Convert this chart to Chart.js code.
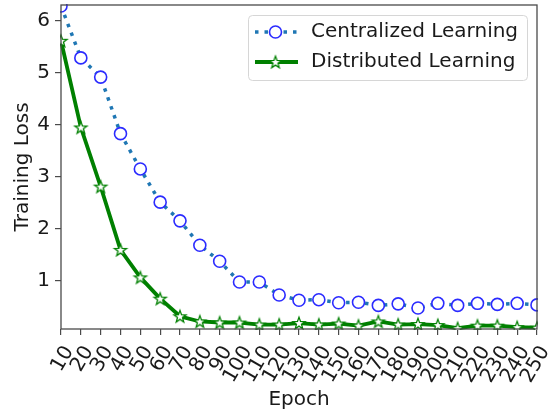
<!DOCTYPE html>
<html><head><meta charset="utf-8">
<script src="https://cdn.jsdelivr.net/npm/chart.js@4/dist/chart.umd.min.js"></script>
<style>html,body{margin:0;padding:0;background:#fff}</style>
</head><body>
<canvas id="c" width="548" height="413"></canvas>
<script>
const epochs = [10,20,30,40,50,60,70,80,90,100,110,120,130,140,150,160,170,180,190,200,210,220,230,240,250];
const centralized = [6.29,5.29,4.92,3.83,3.15,2.51,2.15,1.68,1.37,0.97,0.97,0.72,0.62,0.63,0.57,0.58,0.52,0.55,0.47,0.56,0.52,0.56,0.54,0.56,0.53];
const distributed = [5.62,3.95,2.81,1.59,1.06,0.65,0.31,0.21,0.19,0.19,0.15,0.15,0.18,0.15,0.17,0.13,0.21,0.15,0.16,0.14,0.08,0.13,0.13,0.10,0.09];
const yTicks = [1,2,3,4,5,6];
const seriesNames = ['Centralized Learning','Distributed Learning'];
const xTitle = 'Epoch';
const yTitle = 'Training Loss';

const FONT = 'DejaVu Sans';
const GREEN = '#008000';
const DOTBLUE = '#1f77b4';
const MARKBLUE = '#2b2bff';

function makeStar(){
  const s = 18, c = document.createElement('canvas');
  c.width = s; c.height = s;
  const g = c.getContext('2d');
  g.beginPath();
  for (let i = 0; i < 10; i++) {
    const r = i % 2 ? 2.6 : 6.4;
    const a = -Math.PI/2 + i*Math.PI/5;
    g.lineTo(s/2 + r*Math.cos(a), s/2 + 0.5 + r*Math.sin(a));
  }
  g.closePath();
  g.fillStyle = '#fff'; g.fill();
  g.strokeStyle = GREEN; g.lineWidth = 1.3; g.lineJoin = 'miter'; g.stroke();
  return c;
}
const starImg = makeStar();

const framePlugin = {
  id: 'frame',
  afterDatasetsDraw(chart){
    const {ctx, chartArea:a} = chart;
    ctx.save();
    ctx.strokeStyle = '#4a4a4a'; ctx.lineWidth = 1.3;
    ctx.strokeRect(a.left, a.top, a.right - a.left, a.bottom - a.top);
    ctx.restore();
  }
};

const legendPlugin = {
  id: 'mplLegend',
  afterDraw(chart){
    const ctx = chart.ctx;
    ctx.save();
    const x0 = 248.5, y0 = 15.5, w = 279, h = 65, r = 4;
    ctx.beginPath();
    ctx.moveTo(x0+r, y0); ctx.lineTo(x0+w-r, y0); ctx.arcTo(x0+w, y0, x0+w, y0+r, r);
    ctx.lineTo(x0+w, y0+h-r); ctx.arcTo(x0+w, y0+h, x0+w-r, y0+h, r);
    ctx.lineTo(x0+r, y0+h); ctx.arcTo(x0, y0+h, x0, y0+h-r, r);
    ctx.lineTo(x0, y0+r); ctx.arcTo(x0, y0, x0+r, y0, r); ctx.closePath();
    ctx.fillStyle = 'rgba(255,255,255,0.8)'; ctx.fill();
    ctx.strokeStyle = '#d6d6d6'; ctx.lineWidth = 1; ctx.stroke();

    const rows = [32, 62];
    ctx.beginPath(); ctx.setLineDash([3.5, 6]); ctx.lineCap = 'butt';
    ctx.strokeStyle = DOTBLUE; ctx.lineWidth = 3.5;
    ctx.moveTo(255, rows[0]); ctx.lineTo(298, rows[0]); ctx.stroke();
    ctx.setLineDash([]);
    ctx.beginPath(); ctx.arc(275.5, rows[0], 6, 0, Math.PI*2);
    ctx.fillStyle = '#fff'; ctx.fill();
    ctx.strokeStyle = MARKBLUE; ctx.lineWidth = 1.6; ctx.stroke();
    ctx.beginPath(); ctx.strokeStyle = GREEN; ctx.lineWidth = 3.8;
    ctx.moveTo(255, rows[1]); ctx.lineTo(298, rows[1]); ctx.stroke();
    ctx.drawImage(starImg, 275.5 - 9, rows[1] - 9);

    ctx.fillStyle = '#1a1a1a';
    ctx.font = '20px "' + FONT + '"';
    ctx.textBaseline = 'middle'; ctx.textAlign = 'left';
    ctx.fillText(seriesNames[0], 311, rows[0]);
    ctx.fillText(seriesNames[1], 311, rows[1]);
    ctx.restore();
  }
};

new Chart(document.getElementById('c'), {
  type: 'line',
  data: {
    labels: epochs,
    datasets: [
      {
        label: seriesNames[0], data: centralized, clip: 1,
        borderColor: DOTBLUE, borderWidth: 3.5, borderDash: [3.5, 6], borderCapStyle: 'butt',
        pointStyle: 'circle', pointRadius: 6, pointBorderWidth: 1.6,
        pointBorderColor: MARKBLUE, pointBackgroundColor: '#fff', tension: 0, order: 2
      },
      {
        label: seriesNames[1], data: distributed, clip: 1,
        borderColor: GREEN, borderWidth: 3.8, borderJoinStyle: 'round',
        pointStyle: starImg, pointRadius: 7, tension: 0, order: 1
      }
    ]
  },
  options: {
    responsive: false, animation: false,
    layout: { autoPadding: false, padding: { left: 0, top: 5, right: 11, bottom: 0 } },
    plugins: { legend: { display: false }, tooltip: { enabled: false } },
    elements: { point: { hoverRadius: 6 } },
    scales: {
      x: {
        type: 'category', offset: false,
        border: { display: false },
        grid: { display: true, drawOnChartArea: false, drawTicks: true, tickLength: 6, color: '#4a4a4a', lineWidth: 1.2 },
        ticks: { autoSkip: false, maxRotation: 60, minRotation: 60, padding: 7, labelOffset: 8, color: '#1a1a1a', font: { family: FONT, size: 20 } },
        title: { display: true, text: xTitle, color: '#1a1a1a', font: { family: FONT, size: 20 }, padding: { top: 0, bottom: 1 } },
        afterFit(s){ s.height = 84; s.paddingLeft = 0; s.paddingRight = 0; }
      },
      y: {
        type: 'linear', min: 0.065, max: 6.31,
        border: { display: false },
        grid: { display: true, drawOnChartArea: false, drawTicks: true, tickLength: 6, color: '#4a4a4a', lineWidth: 1.2 },
        ticks: { padding: 5, color: '#1a1a1a', font: { family: FONT, size: 20 } },
        afterBuildTicks(s){ s.ticks = yTicks.map(v => ({ value: v })); },
        title: { display: true, text: yTitle, color: '#1a1a1a', font: { family: FONT, size: 20 }, padding: { top: 11, bottom: 0 } },
        afterFit(s){ s.width = 61; s.paddingTop = 0; s.paddingBottom = 0; }
      }
    }
  },
  plugins: [framePlugin, legendPlugin]
});
</script>
</body></html>
